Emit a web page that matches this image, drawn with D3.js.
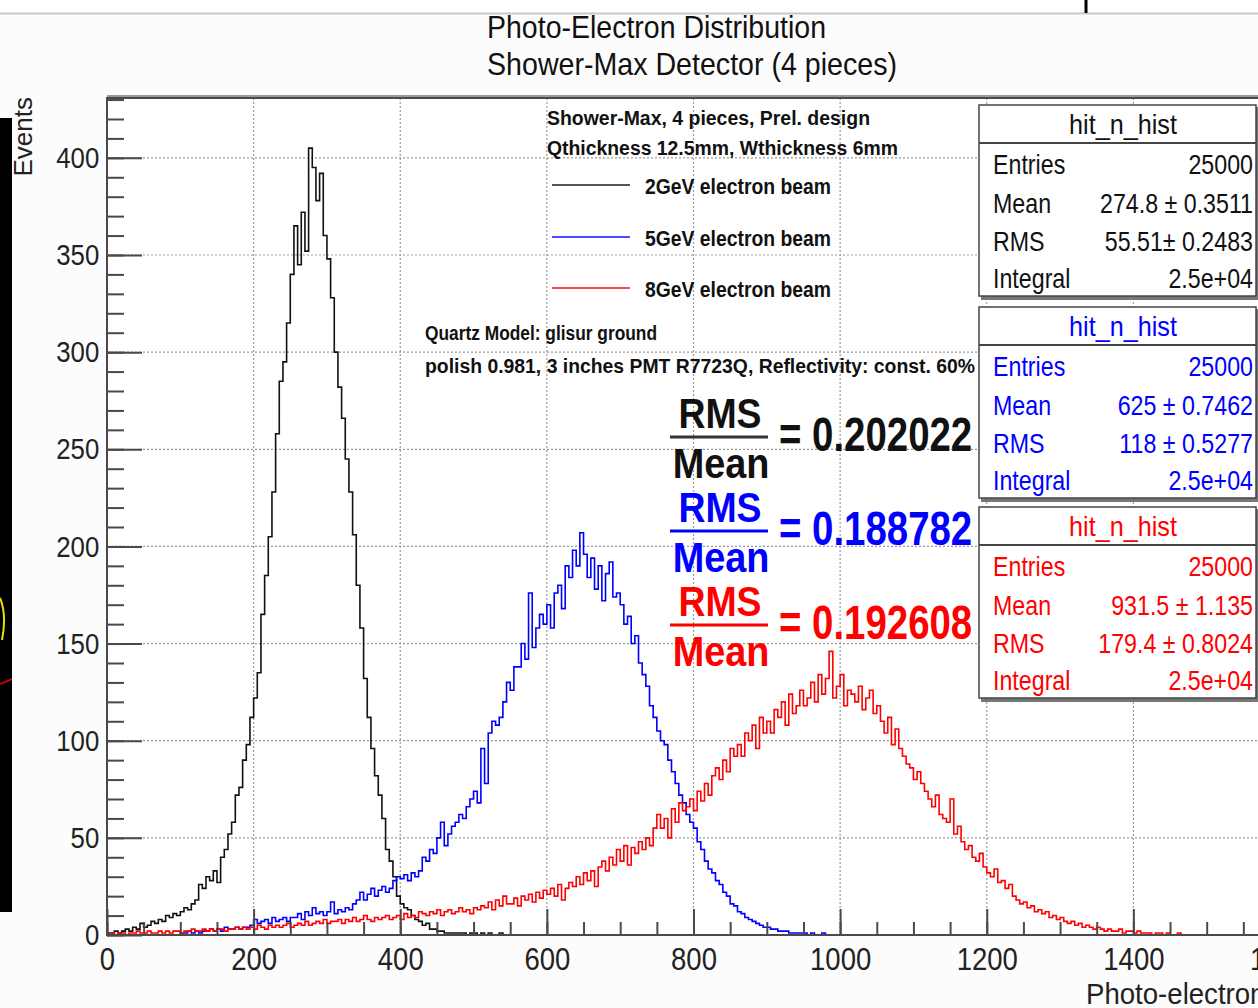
<!DOCTYPE html>
<meta charset="utf-8">
<script src="https://d3js.org/d3.v7.min.js"></script>
<style>
  body { margin: 0; background: #fcfcfc; }
  svg { display: block; font-family: "Liberation Sans", Arial, sans-serif; }
</style>
<div id="my_dataviz"></div>
<script>

// histogram contents, events per bin, bins of binWidth photo-electrons
var binWidth = 5;
var blackStart = 0, blueStart = 100, redStart = 0;

// 2 GeV beam, bins from 0
var black2GeV = [
  1,1,2,1,2,3,2,4,3,6,
  4,5,7,6,8,7,10,9,11,10,
  12,14,13,16,18,26,24,30,28,33,
  27,40,44,52,58,72,76,90,98,112,
  122,135,165,185,205,228,258,285,295,315,
  340,365,345,372,352,405,395,378,392,360,
  348,328,300,282,266,245,228,206,180,158,
  132,112,96,82,72,60,44,38,30,20,
  16,14,13,10,8,7,5,6,3,3,
  2,2,1,1,1,1,1,1,0,1,
  1,0,1,0,1,0,0,1,0
];

// 5 GeV beam, bins from 100
var blue5GeV = [
  1,1,2,1,2,1,2,2,3,2,
  3,2,4,3,3,4,3,4,4,5,
  8,6,7,8,6,9,7,8,9,7,
  9,9,11,8,12,10,14,11,12,10,
  12,17,11,13,12,14,13,16,18,22,
  18,21,24,20,23,25,22,24,28,30,
  29,31,28,32,30,33,40,38,44,42,
  50,58,46,52,56,58,62,60,66,70,
  74,68,96,78,104,110,108,112,120,130,
  126,138,138,150,142,176,148,158,165,160,
  170,158,176,180,168,190,184,198,190,207,
  196,184,194,178,190,172,186,192,174,176,
  170,160,164,150,154,140,134,128,118,112,
  105,100,98,90,84,78,72,68,62,58,
  55,48,44,38,34,32,28,26,22,20,
  16,15,12,11,9,8,7,6,5,4,
  4,3,3,2,2,2,1,1,1,1,
  1,0,1,0,0,1,0,0,0,0
];

// 8 GeV beam, bins from 0
var red8GeV = [
  0,1,0,1,1,0,1,1,2,1,
  1,2,1,1,2,1,2,1,2,2,
  1,2,2,3,2,2,3,2,3,2,
  3,3,2,3,3,4,3,4,3,4,
  3,5,4,3,5,4,5,4,5,6,
  4,5,6,5,7,5,6,7,6,8,
  6,7,7,8,6,8,7,9,7,8,
  10,8,7,9,8,9,10,8,9,10,
  8,11,9,10,9,12,11,10,12,11,
  13,10,12,13,11,12,14,12,13,11,
  14,13,15,14,17,13,18,15,20,16,
  16,19,15,20,18,21,17,22,19,23,
  21,24,20,26,18,24,27,25,30,26,
  32,28,33,25,35,38,33,40,36,44,
  38,46,36,45,42,48,44,50,46,55,
  62,55,60,50,65,58,68,64,66,70,
  64,74,69,78,72,82,86,80,90,84,
  96,92,98,92,104,100,108,96,112,104,
  110,104,116,112,120,108,124,114,118,126,
  118,122,130,120,134,124,132,146,122,128,
  134,118,126,124,120,128,116,122,126,114,
  118,110,104,112,98,106,96,92,88,86,
  80,84,78,74,70,66,72,62,60,58,
  70,52,56,48,44,46,40,38,42,35,
  32,30,34,27,28,24,26,20,18,16,
  17,14,15,12,13,11,12,9,10,8,
  9,7,6,7,5,6,4,5,4,3,
  4,3,2,3,2,2,3,1,2,2,
  1,2,1,1,1,0,1,1,0,1,
  0,0,1,0,0,0,0,0,0,0
];

// upper edge of each histogram's x range (empty bins lie on the axis)
var histEnds = [1000, 1460, 1640];
var seriesColors = ["#111111", "#0000ff", "#ff0000"];
var legendLabels = ["2GeV electron beam", "5GeV electron beam", "8GeV electron beam"];
var ratioValues = ["0.202022", "0.188782", "0.192608"];
var statNames = ["Entries", "Mean", "RMS", "Integral"];
var statBlack = ["25000", "274.8 \u00b1 0.3511", "55.51\u00b1 0.2483", "2.5e+04"];
var statBlue = ["25000", "625 \u00b1 0.7462", "118 \u00b1 0.5277", "2.5e+04"];
var statRed = ["25000", "931.5 \u00b1  1.135", "179.4 \u00b1 0.8024", "2.5e+04"];

var xTicks = [0, 200, 400, 600, 800, 1000, 1200, 1400, 1600];
var xMinor = d3.range(0, 1601, 50);
var yTicks = [0, 50, 100, 150, 200, 250, 300, 350, 400];
var yMinor = d3.range(0, 431, 10);

var W = 1258, H = 1008;
var frame = {left: 107, top: 98, right: 1280, bottom: 935};

var svg = d3.select("#my_dataviz")
  .append("svg")
    .attr("width", W)
    .attr("height", H);

// text helper: ROOT fonts here are narrower than Liberation Sans
function txt(g, x, y, s, size, o) {
  o = o || {};
  var t = g.append("text")
    .attr("transform", "translate(" + x + "," + y + ") scale(" + (o.sx || 1) + ",1)")
    .attr("text-anchor", o.anchor || "start")
    .style("font-size", size + "px")
    .style("font-weight", o.bold ? "bold" : "normal")
    .style("fill", o.color || "#111")
    .text(s);
  if (o.len) t.attr("textLength", o.len).attr("lengthAdjust", "spacingAndGlyphs");
  return t;
}

// bits of the surrounding screenshot
svg.append("rect").attr("x", 0).attr("y", 0).attr("width", W).attr("height", 13).attr("fill", "#fff");
svg.append("line").attr("x1", 0).attr("x2", W).attr("y1", 13.5).attr("y2", 13.5)
  .attr("stroke", "#c8c8c8").attr("stroke-width", 2);
svg.append("line").attr("x1", 1086).attr("x2", 1086).attr("y1", 0).attr("y2", 13)
  .attr("stroke", "#000").attr("stroke-width", 3);
svg.append("rect").attr("x", 0).attr("y", 118).attr("width", 12).attr("height", 794).attr("fill", "#000");
svg.append("path").attr("d", "M0,598 Q7,615 2,640").attr("fill", "none")
  .attr("stroke", "#e8e000").attr("stroke-width", 2);
svg.append("line").attr("x1", 0).attr("x2", 12).attr("y1", 684).attr("y2", 679)
  .attr("stroke", "#e00").attr("stroke-width", 1.5);

// titles
txt(svg, 487, 38, "Photo-Electron Distribution", 32, {len: 339});
txt(svg, 487, 75, "Shower-Max Detector (4 pieces)", 32, {len: 410});

// scales
var x = d3.scaleLinear().domain([0, 1600]).range([frame.left, frame.right]);
var y = d3.scaleLinear().domain([0, 430.8]).range([frame.bottom, frame.top]);

// frame background
svg.append("rect")
  .attr("x", frame.left).attr("y", frame.top)
  .attr("width", frame.right - frame.left).attr("height", frame.bottom - frame.top)
  .attr("fill", "#fff");

// grid
var grid = svg.append("g").attr("stroke", "#9a9a9a").attr("stroke-width", 1.2)
  .attr("stroke-dasharray", "2,2");
grid.selectAll(".gx").data(xTicks.slice(1)).enter().append("line")
  .attr("x1", function (d) { return x(d); }).attr("x2", function (d) { return x(d); })
  .attr("y1", frame.top).attr("y2", frame.bottom);
grid.selectAll(".gy").data(yTicks.slice(1)).enter().append("line")
  .attr("x1", frame.left).attr("x2", frame.right)
  .attr("y1", function (d) { return y(d); }).attr("y2", function (d) { return y(d); });

// histograms
function histPoints(values, start, end) {
  var pts = [];
  if (start > 0) pts.push({x: 0, y: 0});
  values.forEach(function (v, i) { pts.push({x: start + i * binWidth, y: v}); });
  pts.push({x: start + values.length * binWidth, y: 0});
  pts.push({x: end, y: 0});
  return pts;
}
var line = d3.line()
  .x(function (d) { return x(d.x); })
  .y(function (d) { return y(d.y); })
  .curve(d3.curveStepAfter);

var hists = [
  histPoints(black2GeV, blackStart, histEnds[0]),
  histPoints(blue5GeV, blueStart, histEnds[1]),
  histPoints(red8GeV, redStart, histEnds[2])
];
svg.append("g").selectAll("path").data(hists).enter().append("path")
  .attr("d", line)
  .attr("fill", "none")
  .attr("stroke", function (d, i) { return seriesColors[i]; })
  .attr("stroke-width", 1.6);

// axes
var axisColor = "#4a4a4a";
var yAxis = svg.append("g").attr("transform", "translate(" + frame.left + ",0)")
  .call(d3.axisLeft(y).tickValues(yTicks).tickSizeInner(-35).tickSizeOuter(0).tickPadding(9));
svg.append("g").attr("transform", "translate(" + frame.left + ",0)")
  .call(d3.axisLeft(y).tickValues(yMinor).tickSize(-17).tickFormat(""))
  .select(".domain").remove();
var xAxis = svg.append("g").attr("transform", "translate(0," + frame.bottom + ")")
  .call(d3.axisBottom(x).tickValues(xTicks).tickFormat(d3.format("d"))
    .tickSizeInner(-26).tickSizeOuter(0).tickPadding(12));
svg.append("g").attr("transform", "translate(0," + frame.bottom + ")")
  .call(d3.axisBottom(x).tickValues(xMinor).tickSize(-13).tickFormat(""))
  .select(".domain").remove();

svg.selectAll(".tick line").attr("stroke", axisColor).attr("stroke-width", 2);
svg.selectAll(".domain").remove();
yAxis.selectAll("text")
  .style("font-size", "30px").style("fill", "#222").style("font-family", "Liberation Sans, Arial")
  .attr("transform", "scale(0.86,1)");
xAxis.selectAll("text")
  .style("font-size", "32px").style("fill", "#222").style("font-family", "Liberation Sans, Arial")
  .attr("transform", "scale(0.86,1)");

// frame border
svg.append("rect")
  .attr("x", frame.left).attr("y", frame.top)
  .attr("width", frame.right - frame.left).attr("height", frame.bottom - frame.top)
  .attr("fill", "none").attr("stroke", axisColor).attr("stroke-width", 2);
svg.append("line").attr("x1", frame.left).attr("x2", frame.right)
  .attr("y1", frame.top - 2).attr("y2", frame.top - 2)
  .attr("stroke", "#999").attr("stroke-width", 2);

// axis titles
svg.append("text")
  .attr("transform", "translate(32,97) rotate(-90)")
  .attr("text-anchor", "end")
  .style("font-size", "26px").style("fill", "#222")
  .text("Events");
txt(svg, 1086, 1004, "Photo-electrons", 30, {sx: 0.92, color: "#222"});

// legend
txt(svg, 547, 125, "Shower-Max, 4 pieces, Prel. design", 20, {bold: true, len: 323});
txt(svg, 547, 155, "Qthickness 12.5mm, Wthickness 6mm", 20, {bold: true, len: 351});
var legendY = [185, 237, 288];
legendLabels.forEach(function (lab, i) {
  svg.append("line").attr("x1", 552).attr("x2", 630)
    .attr("y1", legendY[i]).attr("y2", legendY[i])
    .attr("stroke", seriesColors[i]).attr("stroke-width", 2).attr("opacity", 0.7);
  txt(svg, 645, legendY[i] + 9, lab, 22, {bold: true, len: 186});
});
txt(svg, 425, 340, "Quartz Model: glisur ground", 20, {bold: true, len: 232});
txt(svg, 425, 373, "polish 0.981, 3 inches PMT R7723Q, Reflectivity: const. 60%", 20, {bold: true, len: 550});

// RMS / Mean ratios
var ratioBase = [428, 522, 616];
ratioValues.forEach(function (v, i) {
  var b = ratioBase[i], c = seriesColors[i];
  txt(svg, 720, b, "RMS", 43, {bold: true, anchor: "middle", sx: 0.87, color: c});
  svg.append("line").attr("x1", 670).attr("x2", 768).attr("y1", b + 9).attr("y2", b + 9)
    .attr("stroke", i === 0 ? "#333" : c).attr("stroke-width", 3);
  txt(svg, 721, b + 50, "Mean", 43, {bold: true, anchor: "middle", sx: 0.88, color: c});
  txt(svg, 779, b + 23, "= " + v, 48, {bold: true, sx: 0.8, color: c});
});

// stat boxes
var statBoxes = [statBlack, statBlue, statRed];
var boxTop = [105, 307, 507];
var rowOffsets = [69, 108, 146, 183];
statBoxes.forEach(function (vals, i) {
  var t = boxTop[i], c = seriesColors[i];
  var g = svg.append("g");
  g.append("rect").attr("x", 981).attr("y", t + 2).attr("width", 278).attr("height", 193)
    .attr("fill", "#777");
  g.append("rect").attr("x", 979).attr("y", t).attr("width", 277).attr("height", 191)
    .attr("fill", "#fff").attr("stroke", "#444").attr("stroke-width", 1.5);
  g.append("line").attr("x1", 979).attr("x2", 1256).attr("y1", t + 38).attr("y2", t + 38)
    .attr("stroke", "#444").attr("stroke-width", 2);
  txt(g, 1123, t + 29, "hit_n_hist", 28, {anchor: "middle", sx: 0.9, color: c});
  statNames.forEach(function (n, k) {
    txt(g, 993, t + rowOffsets[k], n, 27, {sx: 0.86, color: c});
    txt(g, 1253, t + rowOffsets[k], vals[k], 27, {sx: 0.86, anchor: "end", color: c});
  });
});

</script>
